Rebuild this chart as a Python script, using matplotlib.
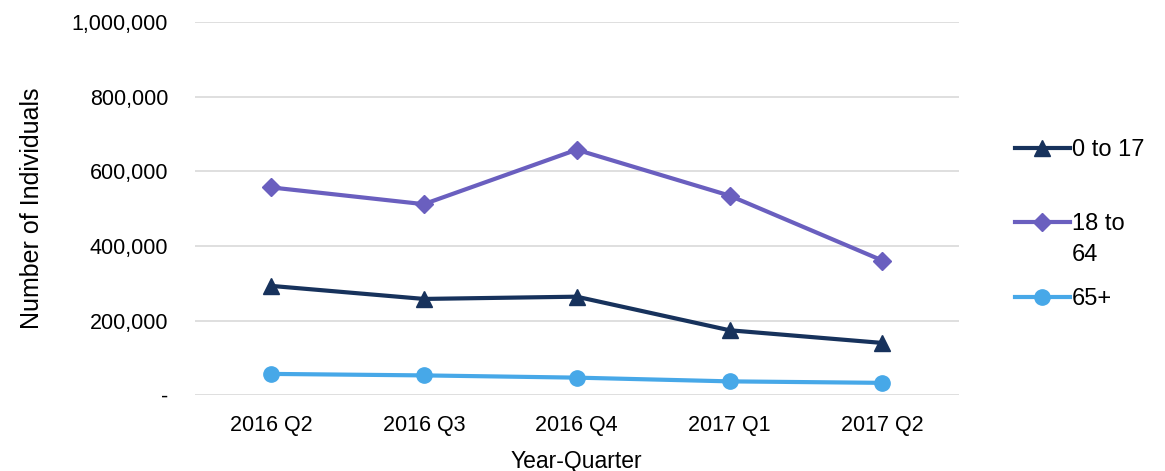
import matplotlib
matplotlib.use("Agg")
import matplotlib.pyplot as plt
from matplotlib.lines import Line2D
from matplotlib.ticker import FuncFormatter

plt.rcParams['font.family'] = ['Liberation Sans', 'DejaVu Sans']

# data
quarters = ["2016 Q2", "2016 Q3", "2016 Q4", "2017 Q1", "2017 Q2"]
age_0_17 = [293000, 258000, 264000, 174000, 140000]
age_18_64 = [557000, 512000, 658000, 535000, 361000]
age_65_plus = [57000, 53000, 47000, 37000, 33000]

series = [
    ("0 to 17", age_0_17, "#17325c", "^", 11),
    ("18 to\n64", age_18_64, "#6a5fbf", "D", 9),
    ("65+", age_65_plus, "#47a8e8", "o", 11),
]

W, H = 1165, 471
fig = plt.figure(figsize=(W / 100, H / 100), dpi=100)
ax = fig.add_axes([0.167, 0.161, 0.656, 0.792])

x = range(len(quarters))
for name, vals, col, mk, ms in series:
    ax.plot(x, vals, color=col, lw=3, marker=mk, ms=ms)

ax.set_xlim(-0.5, len(quarters) - 0.5)
ax.set_ylim(0, 1000000)
ax.set_yticks(range(0, 1000001, 200000))
ax.yaxis.set_major_formatter(FuncFormatter(lambda v, p: "-" if v == 0 else f"{int(v):,}"))
ax.set_xticks(list(x))
ax.set_xticklabels(quarters)
ax.grid(axis="y", color="#d9d9d9", lw=1.2)
ax.set_axisbelow(True)
for s in ax.spines.values():
    s.set_visible(False)
ax.tick_params(length=0, labelsize=15.5, colors="black")
ax.tick_params(axis="y", pad=19)
ax.tick_params(axis="x", pad=14)

ax.set_xlabel("Year-Quarter", fontsize=16.5, labelpad=10)
ax.set_ylabel("Number of Individuals", fontsize=18, labelpad=20)

# legend drawn by hand (Excel-style: wrapped label, handle on first line)
legend_y = [148, 222, 297]
for (name, vals, col, mk, ms), yp in zip(series, legend_y):
    yf = 1 - yp / H
    fig.add_artist(Line2D([1015 / W, 1070 / W], [yf, yf], color=col, lw=3,
                          transform=fig.transFigure))
    fig.add_artist(Line2D([1042 / W], [yf], color=col, marker=mk, ms=ms,
                          transform=fig.transFigure))
    # top-anchored text, nudged up so the first line sits on the handle
    fig.text(1072 / W, yf + 9 / H, name, fontsize=17, va="top", ha="left",
             linespacing=1.55)

fig.savefig("out.png", dpi=100)
